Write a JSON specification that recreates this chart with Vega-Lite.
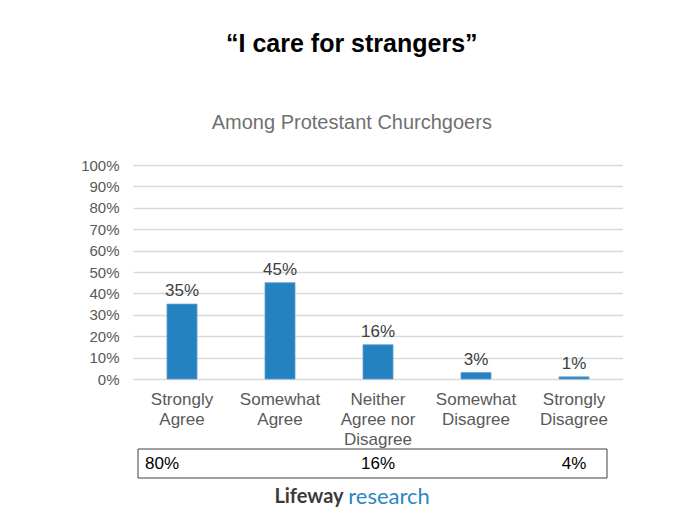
{
  "$schema": "https://vega.github.io/schema/vega-lite/v6.json",
  "background": "white",
  "padding": {"top": 32, "left": 80, "right": 0, "bottom": 0},
  "config": {
    "font": "Liberation Sans",
    "view": {"stroke": null},
    "concat": {"spacing": 1}
  },
  "title": {
    "text": "“I care for strangers”",
    "subtitle": "Among Protestant Churchgoers",
    "font": "Liberation Sans",
    "fontSize": 25,
    "fontWeight": "bold",
    "color": "#000000",
    "subtitleFont": "Liberation Sans",
    "subtitleFontSize": 20,
    "subtitleColor": "#707070",
    "subtitlePadding": 56,
    "offset": 25,
    "anchor": "middle"
  },
  "datasets": {
    "responses": [
      {"response": "Strongly Agree", "pct": 0.35},
      {"response": "Somewhat Agree", "pct": 0.45},
      {"response": "Neither Agree nor Disagree", "pct": 0.16},
      {"response": "Somewhat Disagree", "pct": 0.03},
      {"response": "Strongly Disagree", "pct": 0.01}
    ],
    "summary": [
      {"column": "Strongly Agree", "total": 0.80},
      {"column": "Neither Agree nor Disagree", "total": 0.16},
      {"column": "Strongly Disagree", "total": 0.04}
    ]
  },
  "vconcat": [
    {
      "width": 490,
      "height": 214,
      "data": {"name": "responses"},
      "encoding": {
        "x": {
          "field": "response",
          "type": "nominal",
          "sort": null,
          "scale": {"paddingInner": 0, "paddingOuter": 0},
          "axis": {
            "title": null,
            "domain": false,
            "ticks": false,
            "labelAngle": 0,
            "labelFontSize": 17,
            "labelColor": "#595959",
            "labelLineHeight": 20,
            "labelPadding": 12,
            "labelBaseline": "top",
            "labelExpr": "datum.value == 'Neither Agree nor Disagree' ? ['Neither', 'Agree nor', 'Disagree'] : split(datum.value, ' ')"
          }
        },
        "y": {
          "field": "pct",
          "type": "quantitative",
          "scale": {"domain": [0, 1]},
          "axis": {
            "title": null,
            "format": ".0%",
            "values": [0, 0.1, 0.2, 0.3, 0.4, 0.5, 0.6, 0.7, 0.8, 0.9, 1],
            "domain": false,
            "ticks": false,
            "labelFontSize": 15,
            "labelColor": "#595959",
            "labelPadding": 14,
            "gridColor": "#d9d9d9",
            "gridWidth": 1.3
          }
        }
      },
      "layer": [
        {"mark": {"type": "bar", "width": 30, "color": "#2582c1", "stroke": "#5aa0d2", "strokeWidth": 0.8}},
        {
          "mark": {"type": "text", "baseline": "bottom", "dy": -4, "fontSize": 17, "color": "#404040"},
          "encoding": {"text": {"field": "pct", "format": ".0%"}}
        }
      ]
    },
    {
      "width": 490,
      "height": 29,
      "resolve": {"scale": {"x": "independent"}},
      "layer": [
        {
          "data": {"values": [{"row": "Total"}]},
          "mark": {"type": "rect", "fill": "transparent", "stroke": "#404040", "strokeWidth": 1},
          "encoding": {
            "x": {"field": "row", "type": "nominal", "scale": {"range": [5, 474], "paddingInner": 0, "paddingOuter": 0}, "axis": null}
          }
        },
        {
          "data": {"name": "summary"},
          "transform": [{"filter": "datum.column == 'Strongly Agree'"}],
          "mark": {"type": "text", "align": "left", "dx": 12, "fontSize": 17, "color": "#000000"},
          "encoding": {
            "x": {"field": "column", "type": "nominal", "bandPosition": 0,
                  "scale": {"type": "band", "domain": ["Strongly Agree", "Somewhat Agree", "Neither Agree nor Disagree", "Somewhat Disagree", "Strongly Disagree"], "paddingInner": 0, "paddingOuter": 0},
                  "axis": null},
            "text": {"field": "total", "format": ".0%"}
          }
        },
        {
          "data": {"name": "summary"},
          "transform": [{"filter": "datum.column != 'Strongly Agree'"}],
          "mark": {"type": "text", "align": "center", "fontSize": 17, "color": "#000000"},
          "encoding": {
            "x": {"field": "column", "type": "nominal",
                  "scale": {"type": "band", "domain": ["Strongly Agree", "Somewhat Agree", "Neither Agree nor Disagree", "Somewhat Disagree", "Strongly Disagree"], "paddingInner": 0, "paddingOuter": 0},
                  "axis": null},
            "text": {"field": "total", "format": ".0%"}
          }
        }
      ]
    },
    {
      "width": 490,
      "height": 34,
      "data": {"values": [{"word": "Lifeway"}, {"word": "research"}]},
      "encoding": {
        "x": {"field": "word", "type": "nominal", "scale": {"type": "point", "domain": ["Lifeway", "research"], "range": [176, 256], "padding": 0}, "axis": null},
        "text": {"field": "word"}
      },
      "layer": [
        {
          "transform": [{"filter": "datum.word == 'Lifeway'"}],
          "mark": {"type": "text", "font": "Lato", "fontWeight": "bold", "fontSize": 20, "color": "#3b3b3b"}
        },
        {
          "transform": [{"filter": "datum.word == 'research'"}],
          "mark": {"type": "text", "font": "Lato", "fontSize": 22, "color": "#2a87c2"}
        }
      ]
    }
  ]
}
